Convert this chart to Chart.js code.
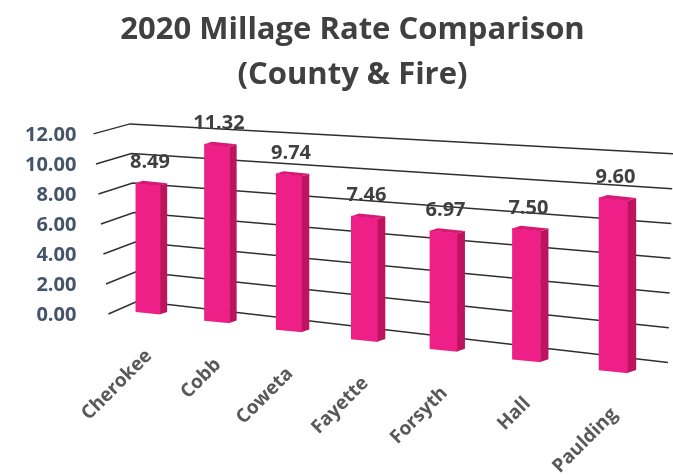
<!DOCTYPE html>
<html>
<head>
<meta charset="utf-8">
<script src="https://cdn.jsdelivr.net/npm/chart.js@4"></script>
<style>
  body { margin: 0; background: #fff; }
  #wrap { width: 673px; height: 475px; position: relative; }
</style>
</head>
<body>
<div id="wrap"><canvas id="millageChart"></canvas></div>
<script>
const titleLines = ['2020 Millage Rate Comparison', '(County & Fire)'];
const categories = ['Cherokee', 'Cobb', 'Coweta', 'Fayette', 'Forsyth', 'Hall', 'Paulding'];
const millage = [8.49, 11.32, 9.74, 7.46, 6.97, 7.50, 9.60];
const yTicks = [0, 2, 4, 6, 8, 10, 12];

const FONT = "'Open Sans', sans-serif";
const depth = 1.15;       // right end of the floor is nearer than the left end
const floorSlope = 0.1255; // bar feet run downhill to the right

// fake 3D: where a category pixel ends up on screen
function frame(chart) {
  const xs = chart.scales.x;
  const first = xs.getPixelForValue(0);
  const last = xs.getPixelForValue(categories.length - 1);
  return { a: chart.chartArea, first: first, last: last, left: first + 15, right: last - 18 };
}

function place(f, x) {
  const t = (x - f.first) / (f.last - f.first);
  const u = t / (t + depth * (1 - t));
  const X = f.left + (f.right - f.left) * u;
  return {
    X: X,
    k: 1.01 + 0.185 * u,
    base: f.a.bottom - 2 + floorSlope * (X - f.left)
  };
}

const perspective = {
  id: 'perspective',
  beforeDatasetsDraw(chart) {
    const ctx = chart.ctx;
    const ys = chart.scales.y;
    const f = frame(chart);
    const a = f.a;

    // back wall grid lines
    ctx.save();
    ctx.strokeStyle = '#2f2f2f';
    ctx.lineWidth = 1.5;
    yTicks.forEach(v => {
      const yPix = ys.getPixelForValue(v);
      const fr = (a.bottom - yPix) / (a.bottom - a.top);
      const sx = a.left + 2 + 15 * (1 - fr);
      const cx = f.left - 10 - 8 * fr;
      const cy = yPix - 14 + 3 * fr;
      const slope = 0.116 - 0.061 * fr;
      const ex = a.right - 5 + 5 * fr;
      ctx.beginPath();
      ctx.moveTo(sx, yPix - 1);
      ctx.lineTo(cx, cy);
      ctx.lineTo(ex, cy + slope * (ex - cx));
      ctx.stroke();
    });
    ctx.restore();

    // bars, each with its own little transform
    const meta = chart.getDatasetMeta(0);
    const tops = [];
    meta.data.forEach((bar, i) => {
      const p = place(f, bar.x);
      const b = 0.1 * p.k;
      const w = bar.width;
      const d = 7, dd = 3;
      ctx.save();
      ctx.setTransform(p.k, b, 0, p.k, p.X - p.k * bar.x, p.base - p.k * bar.base - b * bar.x);
      bar.draw(ctx);
      const xr = bar.x + w / 2, xl = bar.x - w / 2;
      // right side
      ctx.fillStyle = '#BE1460';
      ctx.beginPath();
      ctx.moveTo(xr, bar.y);
      ctx.lineTo(xr + d, bar.y - dd);
      ctx.lineTo(xr + d, bar.base - dd);
      ctx.lineTo(xr, bar.base);
      ctx.closePath();
      ctx.fill();
      // top
      ctx.fillStyle = '#D81A76';
      ctx.beginPath();
      ctx.moveTo(xl, bar.y);
      ctx.lineTo(xr, bar.y);
      ctx.lineTo(xr + d, bar.y - dd);
      ctx.lineTo(xl + d, bar.y - dd);
      ctx.closePath();
      ctx.fill();
      ctx.restore();
      tops.push({ X: p.X, top: p.base - p.k * (bar.base - bar.y), base: p.base });
    });

    // value labels + category labels
    ctx.save();
    ctx.fillStyle = '#404040';
    ctx.font = 'bold 20px ' + FONT;
    ctx.textAlign = 'center';
    ctx.textBaseline = 'middle';
    tops.forEach((t, i) => {
      ctx.fillText(millage[i].toFixed(2), t.X + 2, t.top - 22);
    });
    ctx.fillStyle = '#595959';
    ctx.font = 'bold 19px ' + FONT;
    ctx.textAlign = 'right';
    tops.forEach((t, i) => {
      ctx.save();
      ctx.translate(t.X + 1, t.base + 40);
      ctx.rotate(-Math.PI / 4);
      ctx.fillText(categories[i], 0, 0);
      ctx.restore();
    });
    ctx.restore();

    return false; // we drew the bars ourselves
  }
};

const ctx = document.getElementById('millageChart').getContext('2d');
const millageChart = new Chart(ctx, {
  type: 'bar',
  data: {
    labels: categories,
    datasets: [{
      label: 'Millage',
      data: millage,
      backgroundColor: '#EE2087',
      barThickness: 24
    }]
  },
  options: {
    responsive: true,
    maintainAspectRatio: false,
    animation: false,
    layout: { padding: { left: 10, right: -22, top: 0, bottom: 160 } },
    plugins: {
      legend: { display: false },
      tooltip: { enabled: false },
      title: {
        display: true,
        text: titleLines,
        color: '#404040',
        font: { family: FONT, size: 31, weight: 'bold', lineHeight: 1.45 },
        padding: { top: 8, bottom: 37 }
      }
    },
    scales: {
      x: { display: false },
      y: {
        min: yTicks[0],
        max: yTicks[yTicks.length - 1],
        grid: { display: false, drawTicks: false },
        border: { display: false },
        ticks: {
          stepSize: yTicks[1] - yTicks[0],
          padding: 15,
          color: '#44546A',
          font: { family: FONT, size: 20, weight: 'bold' },
          callback: v => v.toFixed(2)
        }
      }
    }
  },
  plugins: [perspective]
});
</script>
</body>
</html>
